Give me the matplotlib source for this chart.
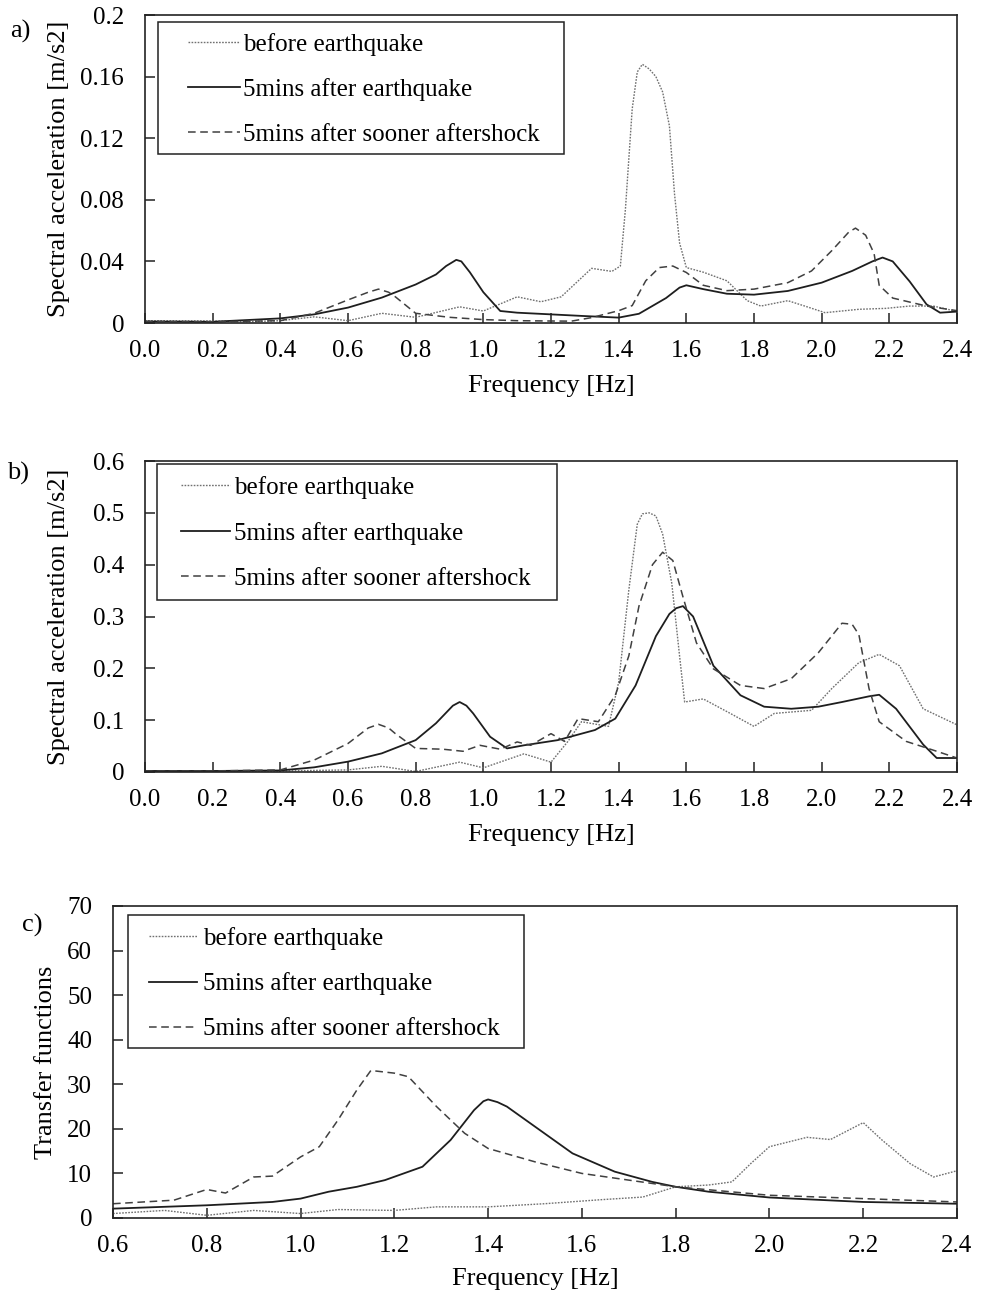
import matplotlib
matplotlib.use("Agg")
import matplotlib.pyplot as plt
from matplotlib.patches import Rectangle

plt.rcParams['font.family'] = ['Liberation Serif', 'DejaVu Serif']

# ---------------- data ----------------
labels = ["before earthquake", "5mins after earthquake", "5mins after sooner aftershock"]

# panel a
before_a_f = [0, 0.2, 0.3, 0.4, 0.5, 0.6, 0.7, 0.8, 0.93, 1.0, 1.1, 1.17, 1.23, 1.32, 1.38, 1.405,
              1.42, 1.44, 1.455, 1.47, 1.49, 1.51, 1.53, 1.55, 1.565, 1.58, 1.6, 1.65, 1.72, 1.78,
              1.82, 1.9, 1.95, 2.01, 2.11, 2.19, 2.26, 2.33, 2.4]
before_a = [0.0015, 0.0013, 0.0008, 0.0015, 0.004, 0.0015, 0.0063, 0.0037, 0.0105, 0.0078, 0.017,
            0.0138, 0.017, 0.0355, 0.0335, 0.037, 0.074, 0.139, 0.163, 0.168, 0.165, 0.160, 0.150,
            0.128, 0.084, 0.052, 0.036, 0.033, 0.0274, 0.0145, 0.011, 0.0145, 0.011, 0.0067,
            0.0089, 0.0095, 0.011, 0.011, 0.0075]
solid_a_f = [0, 0.2, 0.4, 0.5, 0.6, 0.7, 0.8, 0.86, 0.89, 0.92, 0.935, 0.96, 1.0, 1.05, 1.1, 1.2,
             1.3, 1.4, 1.46, 1.54, 1.58, 1.6, 1.65, 1.72, 1.8, 1.9, 2.0, 2.09, 2.15, 2.18, 2.21,
             2.26, 2.31, 2.35, 2.4]
solid_a = [0.001, 0.0008, 0.003, 0.0056, 0.010, 0.0165, 0.025, 0.0315, 0.037, 0.041, 0.040, 0.033,
           0.020, 0.0078, 0.0067, 0.0056, 0.0045, 0.0035, 0.006, 0.0162, 0.023, 0.0245, 0.022,
           0.019, 0.0184, 0.0208, 0.0262, 0.0338, 0.040, 0.0425, 0.040, 0.027, 0.0121, 0.0067,
           0.0074]
dashed_a_f = [0, 0.2, 0.4, 0.5, 0.6, 0.66, 0.69, 0.72, 0.74, 0.8, 0.9, 1.0, 1.1, 1.2, 1.26, 1.32,
              1.4, 1.44, 1.48, 1.52, 1.56, 1.6, 1.65, 1.72, 1.8, 1.9, 1.97, 2.03, 2.08, 2.1, 2.13,
              2.155, 2.17, 2.21, 2.31, 2.4]
dashed_a = [0.001, 0.0008, 0.0015, 0.0063, 0.015, 0.020, 0.022, 0.020, 0.017, 0.0063, 0.0037,
            0.0022, 0.0015, 0.0013, 0.0012, 0.0035, 0.008, 0.0113, 0.0274, 0.036, 0.037, 0.0328,
            0.0245, 0.021, 0.022, 0.0262, 0.0338, 0.047, 0.059, 0.0616, 0.057, 0.045, 0.0245,
            0.0162, 0.011, 0.008]

# panel b
before_b_f = [0, 0.2, 0.4, 0.5, 0.6, 0.7, 0.8, 0.93, 1.0, 1.12, 1.2, 1.25, 1.29, 1.37, 1.4, 1.43,
              1.455, 1.47, 1.49, 1.51, 1.53, 1.557, 1.58, 1.595, 1.65, 1.73, 1.8, 1.86, 1.97,
              2.03, 2.11, 2.17, 2.23, 2.3, 2.4]
before_b = [0.002, 0.002, 0.002, 0.003, 0.004, 0.011, 0.001, 0.019, 0.008, 0.035, 0.019, 0.059,
            0.097, 0.088, 0.173, 0.351, 0.478, 0.498, 0.500, 0.494, 0.459, 0.364, 0.224, 0.135,
            0.141, 0.113, 0.088, 0.113, 0.119, 0.161, 0.211, 0.227, 0.205, 0.122, 0.091]
solid_b_f = [0, 0.2, 0.4, 0.5, 0.6, 0.7, 0.8, 0.86, 0.91, 0.93, 0.95, 0.97, 1.02, 1.07, 1.12, 1.22,
             1.33, 1.39, 1.45, 1.51, 1.55, 1.57, 1.59, 1.62, 1.68, 1.76, 1.83, 1.91, 1.99, 2.06,
             2.14, 2.17, 2.22, 2.3, 2.34, 2.4]
solid_b = [0.002, 0.002, 0.003, 0.009, 0.020, 0.036, 0.0615, 0.094, 0.128, 0.135, 0.128, 0.113,
           0.068, 0.0455, 0.0515, 0.0615, 0.081, 0.103, 0.167, 0.262, 0.305, 0.316, 0.32, 0.30,
           0.205, 0.148, 0.126, 0.122, 0.126, 0.135, 0.146, 0.149, 0.122, 0.053, 0.027, 0.027]
dashed_b_f = [0, 0.2, 0.4, 0.5, 0.6, 0.66, 0.69, 0.72, 0.74, 0.8, 0.88, 0.94, 0.99, 1.05, 1.1,
              1.14, 1.2, 1.24, 1.28, 1.34, 1.39, 1.43, 1.46, 1.5, 1.53, 1.56, 1.59, 1.63, 1.68,
              1.76, 1.83, 1.91, 1.99, 2.06, 2.09, 2.11, 2.14, 2.17, 2.25, 2.34, 2.4]
dashed_b = [0.002, 0.002, 0.004, 0.023, 0.055, 0.085, 0.092, 0.085, 0.074, 0.0455, 0.044, 0.040,
            0.0515, 0.044, 0.058, 0.0515, 0.074, 0.059, 0.103, 0.097, 0.148, 0.224, 0.32, 0.40,
            0.424, 0.408, 0.338, 0.249, 0.199, 0.167, 0.161, 0.18, 0.23, 0.287, 0.285, 0.265,
            0.161, 0.097, 0.059, 0.04, 0.027]

# panel c
before_c_f = [0.6, 0.71, 0.8, 0.9, 1.0, 1.08, 1.2, 1.29, 1.4, 1.52, 1.64, 1.73, 1.8, 1.87, 1.92,
              1.96, 2.0, 2.08, 2.13, 2.2, 2.24, 2.3, 2.35, 2.4]
before_c = [1.0, 1.7, 0.6, 1.7, 1.0, 1.9, 1.7, 2.5, 2.5, 3.2, 4.1, 4.7, 7.0, 7.4, 8.1, 12.2, 16,
            18.1, 17.6, 21.4, 17.5, 12.2, 9.2, 10.6]
solid_c_f = [0.6, 0.8, 0.94, 1.0, 1.06, 1.12, 1.18, 1.26, 1.32, 1.37, 1.39, 1.40, 1.42, 1.44, 1.5,
             1.58, 1.67, 1.75, 1.8, 1.87, 2.0, 2.2, 2.4]
solid_c = [2.1, 2.85, 3.6, 4.35, 5.9, 7.0, 8.5, 11.5, 17.5, 24.2, 26.2, 26.6, 26.0, 25.0, 20.5,
           14.5, 10.4, 8.1, 7.0, 5.9, 4.6, 3.6, 3.2]
dashed_c_f = [0.6, 0.73, 0.8, 0.84, 0.9, 0.94, 1.0, 1.04, 1.08, 1.12, 1.15, 1.2, 1.23, 1.29, 1.35,
              1.4, 1.5, 1.6, 1.7, 1.8, 2.0, 2.2, 2.4]
dashed_c = [3.2, 4.0, 6.4, 5.6, 9.2, 9.4, 13.7, 16, 22, 28.7, 33.1, 32.5, 31.7, 25, 19, 15.6, 12.6,
            10, 8.5, 7.0, 5.1, 4.35, 3.6]

xticks_ab = [0.0, 0.2, 0.4, 0.6, 0.8, 1.0, 1.2, 1.4, 1.6, 1.8, 2.0, 2.2, 2.4]
xticks_c = [0.6, 0.8, 1.0, 1.2, 1.4, 1.6, 1.8, 2.0, 2.2, 2.4]
yticks_a = [0, 0.04, 0.08, 0.12, 0.16, 0.2]
ytick_labels_a = ["0", "0.04", "0.08", "0.12", "0.16", "0.2"]
yticks_b = [0, 0.1, 0.2, 0.3, 0.4, 0.5, 0.6]
ytick_labels_b = ["0", "0.1", "0.2", "0.3", "0.4", "0.5", "0.6"]
yticks_c = [0, 10, 20, 30, 40, 50, 60, 70]
ytick_labels_c = ["0", "10", "20", "30", "40", "50", "60", "70"]

# ---------------- styling ----------------
W, H = 982, 1298
fig = plt.figure(figsize=(W / 100, H / 100), dpi=100)

styles = [
    dict(color="#707070", lw=1.0, linestyle=(0, (1.2, 1.0))),
    dict(color="#1e1e1e", lw=1.3, linestyle="-"),
    dict(color="#404040", lw=1.1, linestyle=(0, (5, 3))),
]
FS = 18


def px_axes(l, t, r, b):
    return fig.add_axes([l / W, 1 - b / H, (r - l) / W, (b - t) / H])


def style_axes(ax, xt, yt, ytl, xlim, ylim, ylabel, ylab_x, xlab_y):
    ax.set_xlim(*xlim)
    ax.set_ylim(*ylim)
    ax.set_xticks(xt)
    ax.set_xticklabels([f"{v:.1f}" for v in xt])
    ax.set_yticks(yt)
    ax.set_yticklabels(ytl)
    ax.tick_params(axis="both", direction="in", length=7, width=1.1, labelsize=FS, color="#222222")
    ax.tick_params(axis="x", pad=12)
    ax.tick_params(axis="y", pad=15)
    for s in ax.spines.values():
        s.set_linewidth(1.2)
        s.set_color("#222222")
    ax.set_xlabel("Frequency [Hz]", fontsize=FS + 1)
    ax.set_ylabel(ylabel, fontsize=FS + 1)
    ax.yaxis.set_label_coords(ylab_x, 0.5)
    ax.xaxis.set_label_coords(0.5, xlab_y)


def add_legend(ax, hx, top, hl, htp, box):
    ax.legend(loc="upper left", bbox_to_anchor=(hx, top), frameon=False, fontsize=FS,
              borderpad=0, borderaxespad=0, handlelength=hl, handletextpad=htp,
              labelspacing=0.9)
    x0, y0, x1, y1 = box
    ax.add_patch(Rectangle((x0, y0), x1 - x0, y1 - y0, transform=ax.transAxes, fill=False,
                           edgecolor="#222222", lw=1.1, zorder=5))


# panel a
ax1 = px_axes(145, 15, 957, 323)
for f, v, st, lab in zip([before_a_f, solid_a_f, dashed_a_f], [before_a, solid_a, dashed_a], styles, labels):
    ax1.plot(f, v, label=lab, **st)
style_axes(ax1, xticks_ab, yticks_a, ytick_labels_a, (0, 2.4), (0, 0.2),
           "Spectral acceleration [m/s2]", -0.092, -0.17)
add_legend(ax1, 0.053, 0.943, 2.08, 0.12, (0.016, 0.549, 0.516, 0.977))

# panel b
ax2 = px_axes(145, 461, 957, 772)
for f, v, st, lab in zip([before_b_f, solid_b_f, dashed_b_f], [before_b, solid_b, dashed_b], styles, labels):
    ax2.plot(f, v, label=lab, **st)
style_axes(ax2, xticks_ab, yticks_b, ytick_labels_b, (0, 2.4), (0, 0.6),
           "Spectral acceleration [m/s2]", -0.092, -0.167)
add_legend(ax2, 0.0443, 0.951, 1.96, 0.17, (0.0148, 0.553, 0.507, 0.990))

# panel c
ax3 = px_axes(113, 906, 957, 1218)
for f, v, st, lab in zip([before_c_f, solid_c_f, dashed_c_f], [before_c, solid_c, dashed_c], styles, labels):
    ax3.plot(f, v, label=lab, **st)
style_axes(ax3, xticks_c, yticks_c, ytick_labels_c, (0.6, 2.4), (0, 70),
           "Transfer functions", -0.066, -0.16)
add_legend(ax3, 0.0427, 0.933, 1.93, 0.22, (0.0178, 0.545, 0.4865, 0.971))

# panel letters
fig.text(20 / W, 1 - 31 / H, "a)", fontsize=FS + 1, ha="center", va="center")
fig.text(18 / W, 1 - 473 / H, "b)", fontsize=FS + 1, ha="center", va="center")
fig.text(32 / W, 1 - 925 / H, "c)", fontsize=FS + 1, ha="center", va="center")

fig.savefig("out.png", dpi=100, facecolor="white")
